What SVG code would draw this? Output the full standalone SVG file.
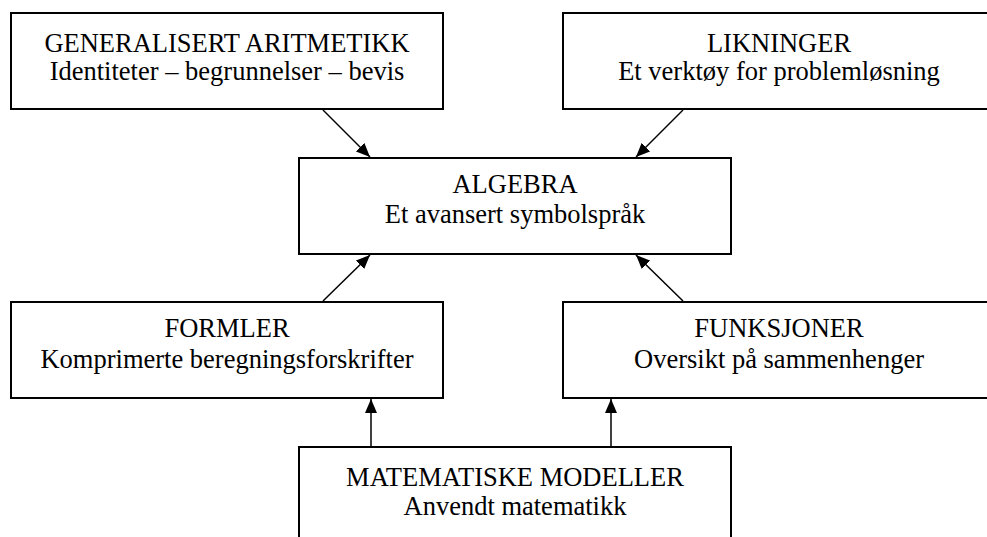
<svg xmlns="http://www.w3.org/2000/svg" width="987" height="537" viewBox="0 0 987 537">
<style>
.box{fill:#fff;stroke:#000;stroke-width:2}
.t{font-family:"Liberation Serif","Times New Roman",serif;font-size:26.5px;fill:#000;text-anchor:middle}
.c{stroke:#000;stroke-width:1.5;fill:none;marker-end:url(#ah)}
</style>
<defs>
<marker id="ah" markerWidth="14" markerHeight="12" refX="14" refY="6" orient="auto" markerUnits="userSpaceOnUse">
<path d="M0,0 L14,6 L0,12 Z" fill="#000"/>
</marker>
</defs>
<rect width="987" height="537" fill="#fff"/>
<g id="generalisert">
<rect class="box" x="11" y="13" width="432" height="96"/>
<text class="t" x="227" y="52">GENERALISERT ARITMETIKK</text>
<text class="t" x="227" y="80">Identiteter – begrunnelser – bevis</text>
</g>
<g id="likninger">
<rect class="box" x="563" y="13" width="432" height="96"/>
<text class="t" x="779" y="52">LIKNINGER</text>
<text class="t" x="779" y="80">Et verktøy for problemløsning</text>
</g>
<g id="algebra">
<rect class="box" x="299" y="158" width="432" height="96"/>
<text class="t" x="515" y="193">ALGEBRA</text>
<text class="t" x="515" y="223">Et avansert symbolspråk</text>
</g>
<g id="formler">
<rect class="box" x="11" y="302" width="432" height="96"/>
<text class="t" x="227" y="337">FORMLER</text>
<text class="t" x="227" y="368">Komprimerte beregningsforskrifter</text>
</g>
<g id="funksjoner">
<rect class="box" x="563" y="302" width="432" height="96"/>
<text class="t" x="779" y="337">FUNKSJONER</text>
<text class="t" x="779" y="368">Oversikt på sammenhenger</text>
</g>
<g id="modeller">
<rect class="box" x="299" y="447" width="432" height="96"/>
<text class="t" x="515" y="486">MATEMATISKE MODELLER</text>
<text class="t" x="515" y="515">Anvendt matematikk</text>
</g>
<g id="connectors">
<line class="c" x1="323" y1="110" x2="370" y2="157"/>
<line class="c" x1="683" y1="110" x2="636" y2="157"/>
<line class="c" x1="323" y1="301" x2="370" y2="255"/>
<line class="c" x1="683" y1="301" x2="636" y2="255"/>
<line class="c" x1="371" y1="446" x2="371" y2="399"/>
<line class="c" x1="611" y1="446" x2="611" y2="399"/>
</g>
</svg>
